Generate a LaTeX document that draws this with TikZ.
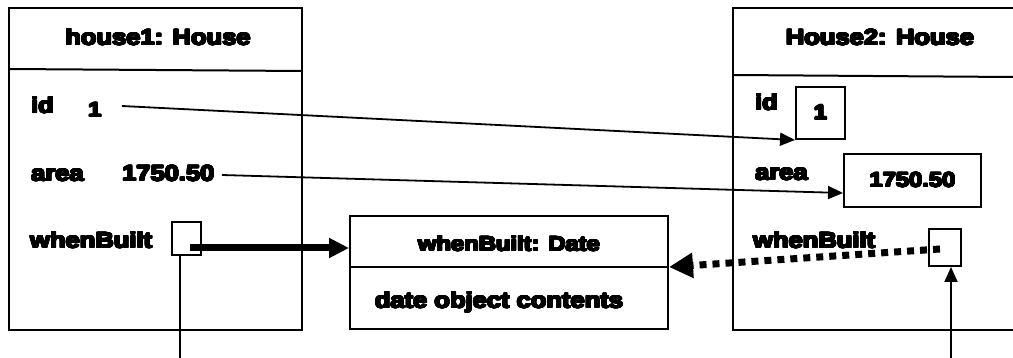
\documentclass[tikz,border=0pt]{standalone}
\usepackage{fontspec}
\usepackage{contour}
\setmainfont{Liberation Sans}[UprightFont={* Bold}, FakeStretch=1.16]
\usetikzlibrary{arrows.meta}
% heavy text: the bold face thickened by a black contour
\contourlength{0.75pt}
\contournumber{24}
\newcommand{\hvtext}[1]{\contour{black}{#1}}

\begin{document}
\begin{tikzpicture}[x=1pt, y=-1pt,
  frame/.style={draw, line width=2pt, rectangle, inner sep=0pt},
  lbl/.style={inner sep=0pt, font=\fontsize{22}{24}\selectfont},
  small/.style={inner sep=0pt, font=\fontsize{20.5}{22}\selectfont},
  ptr/.style={line width=1.8pt, -{Triangle[length=15pt,width=13pt]}},
  bigref/.style={line width=7pt, -{Triangle[length=20pt,width=19pt]}},
  dotref/.style={line width=7pt, dash pattern=on 7pt off 6pt, -{Triangle[length=24pt,width=24pt]}},
  plain/.style={line width=2pt}]

\fill[white] (0,0) rectangle (1013,358);
\useasboundingbox (0,0) rectangle (1013,358);

% ---- object house1 ----
\node[frame, minimum width=293pt, minimum height=322pt] (h1) at (155.5,169) {};
\draw[plain] (9,69) -- (302,71);
\node[lbl, anchor=base] (h1title) at (158,45) {\hvtext{house1: House}};
\node[lbl, anchor=base west] (h1id) at (31,113) {\hvtext{id}};
\node[small, anchor=base west] (h1idv) at (88,117) {\hvtext{1}};
\node[lbl, anchor=base west] (h1area) at (31,181) {\hvtext{area}};
\node[lbl, anchor=base west] (h1areav) at (122,181) {\hvtext{1750.50}};
\node[lbl, anchor=base west] (h1wb) at (30,248) {\hvtext{whenBuilt}};
\node[frame, minimum width=29pt, minimum height=33pt] (wb1) at (186.5,238.5) {};

% ---- object House2 (open on the right) ----
\coordinate (h2nw) at (733,8);
\coordinate (h2sw) at (733,330);
\draw[plain] (1013,8) -- (h2nw) -- (h2sw) -- (1013,330);
\draw[plain] (733,75) -- (1013,77);
\node[lbl, anchor=base] (h2title) at (880,45) {\hvtext{House2: House}};
\node[lbl, anchor=base west] (h2id) at (755,110) {\hvtext{id}};
\node[frame, small, minimum width=49pt, minimum height=52pt] (id2) at (820.5,113) {\hvtext{1}};
\node[lbl, anchor=base west] (h2area) at (755,180) {\hvtext{area}};
\node[frame, small, minimum width=137pt, minimum height=53pt] (area2) at (912.5,180.5) {\hvtext{1750.50}};
\node[lbl, anchor=base west] (h2wb) at (753,248) {\hvtext{whenBuilt}};
\node[frame, minimum width=32pt, minimum height=37pt] (wb2) at (945,247.5) {};

% ---- object whenBuilt: Date ----
\node[frame, minimum width=318pt, minimum height=113pt] (date) at (509,272.5) {};
\draw[plain] (350,267) -- (668,267);
\node[small, anchor=base] (datetitle) at (509,251) {\hvtext{whenBuilt: Date}};
\node[lbl, anchor=base] (datebody) at (499,308) {\hvtext{date object contents}};

% ---- connectors ----
\coordinate (s1) at (122,106);
\coordinate (s2) at (222,175);
\draw[ptr] (s1) -- (id2.south west);
\draw[ptr] (s2) -- ([yshift=-12.5pt]area2.west);

\coordinate (r1) at (190,248);
\draw[bigref] (r1) -- ([yshift=24.5pt]date.west);

\coordinate (r2) at (940,249);
\draw[dotref] (r2) -- ([yshift=5.5pt]date.east);

\coordinate (v1) at (180,358);
\draw[plain] ([xshift=-6.5pt]wb1.south) -- (v1);
\coordinate (v2) at (951,358);
\draw[ptr, line width=2pt] (v2) -- ([xshift=6pt]wb2.south);
\end{tikzpicture}
\end{document}
